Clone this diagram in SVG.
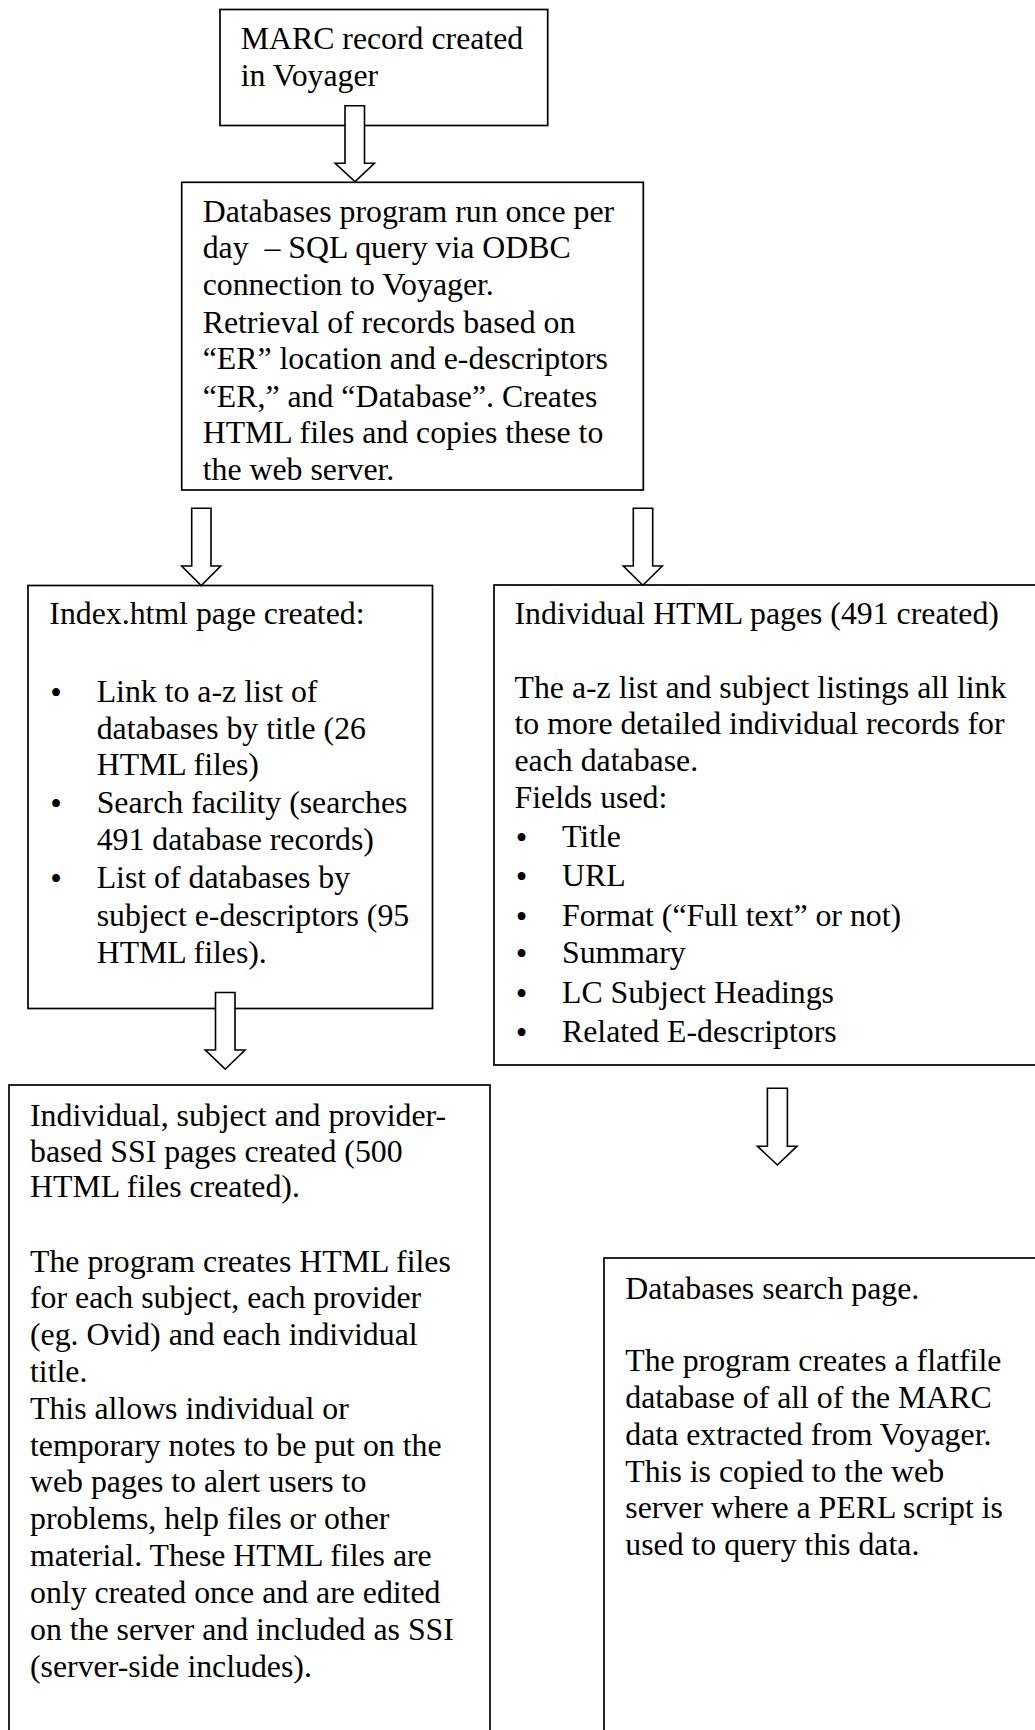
<svg xmlns="http://www.w3.org/2000/svg" width="1035" height="1730" viewBox="0 0 1035 1730">
<style>
  .box { fill: #ffffff; stroke: #000000; stroke-width: 1.7; }
  .arrow { fill: #ffffff; stroke: #000000; stroke-width: 1.6; stroke-linejoin: miter; }
  text { font-family: "Liberation Serif", "Times New Roman", serif; font-size: 31.8px; fill: #000000; }
  .bul { font-size: 33px; text-anchor: middle; }
</style>
<rect x="0" y="0" width="1035" height="1730" fill="#ffffff"/>

<g id="node-marc">
  <rect class="box" x="220" y="9.5" width="327.7" height="116"/>
  <text x="240.7" y="49.3">MARC record created</text>
  <text x="240.7" y="86">in Voyager</text>
</g>

<g id="node-program">
  <rect class="box" x="181.7" y="182.3" width="461.6" height="307.7"/>
  <text x="202.7" y="221.7">Databases program run once per</text>
  <text x="202.7" y="258.4">day&#160; – SQL query via ODBC</text>
  <text x="202.7" y="295.2">connection to Voyager.</text>
  <text x="202.7" y="332.5">Retrieval of records based on</text>
  <text x="202.7" y="369.2">“ER” location and e-descriptors</text>
  <text x="202.7" y="406.5">“ER,” and “Database”. Creates</text>
  <text x="202.7" y="443.3">HTML files and copies these to</text>
  <text x="202.7" y="480">the web server.</text>
</g>

<g id="node-index">
  <rect class="box" x="28" y="585.5" width="404.5" height="423"/>
  <text x="49.3" y="624">Index.html page created:</text>
  <text class="bul" x="56" y="704">•</text>
  <text x="96.7" y="702">Link to a-z list of</text>
  <text x="96.7" y="738.5">databases by title (26</text>
  <text x="96.7" y="775">HTML files)</text>
  <text class="bul" x="56" y="815">•</text>
  <text x="96.7" y="813">Search facility (searches</text>
  <text x="96.7" y="849.5">491 database records)</text>
  <text class="bul" x="56" y="890">•</text>
  <text x="96.7" y="888">List of databases by</text>
  <text x="96.7" y="926">subject e-descriptors (95</text>
  <text x="96.7" y="963">HTML files).</text>
</g>

<g id="node-individual">
  <rect class="box" x="494" y="585" width="560" height="480"/>
  <text x="514.5" y="623.5">Individual HTML pages (491 created)</text>
  <text x="514.5" y="697.5">The a-z list and subject listings all link</text>
  <text x="514.5" y="734">to more detailed individual records for</text>
  <text x="514.5" y="770.8">each database.</text>
  <text x="514.5" y="808">Fields used:</text>
  <text class="bul" x="521.5" y="849.4">•</text>
  <text x="562" y="847.4">Title</text>
  <text class="bul" x="521.5" y="888.4">•</text>
  <text x="562" y="886.4">URL</text>
  <text class="bul" x="521.5" y="927.5">•</text>
  <text x="562" y="925.5">Format (“Full text” or not)</text>
  <text class="bul" x="521.5" y="965.2">•</text>
  <text x="562" y="963.2">Summary</text>
  <text class="bul" x="521.5" y="1004.8">•</text>
  <text x="562" y="1002.8">LC Subject Headings</text>
  <text class="bul" x="521.5" y="1043.8">•</text>
  <text x="562" y="1041.8">Related E-descriptors</text>
</g>

<g id="node-ssi">
  <rect class="box" x="9" y="1085" width="481" height="700"/>
  <text x="30" y="1125.7">Individual, subject and provider-</text>
  <text x="30" y="1162.2">based SSI pages created (500</text>
  <text x="30" y="1197.2">HTML files created).</text>
  <text x="30" y="1271.5">The program creates HTML files</text>
  <text x="30" y="1308">for each subject, each provider</text>
  <text x="30" y="1344.9">(eg. Ovid) and each individual</text>
  <text x="30" y="1381.7">title.</text>
  <text x="30" y="1418.6">This allows individual or</text>
  <text x="30" y="1455.5">temporary notes to be put on the</text>
  <text x="30" y="1492.3">web pages to alert users to</text>
  <text x="30" y="1529.2">problems, help files or other</text>
  <text x="30" y="1566">material. These HTML files are</text>
  <text x="30" y="1602.9">only created once and are edited</text>
  <text x="30" y="1639.8">on the server and included as SSI</text>
  <text x="30" y="1676.6">(server-side includes).</text>
</g>

<g id="node-search">
  <rect class="box" x="604" y="1258" width="450" height="520"/>
  <text x="625.3" y="1299.3">Databases search page.</text>
  <text x="625.3" y="1371">The program creates a flatfile</text>
  <text x="625.3" y="1407.8">database of all of the MARC</text>
  <text x="625.3" y="1444.6">data extracted from Voyager.</text>
  <text x="625.3" y="1481.5">This is copied to the web</text>
  <text x="625.3" y="1518.3">server where a PERL script is</text>
  <text x="625.3" y="1555.2">used to query this data.</text>
</g>

<g id="connectors">
  <polygon class="arrow" points="345,105.7 364.5,105.7 364.5,163.3 374.4,163.3 355,181.7 335.2,163.3 345,163.3"/>
  <polygon class="arrow" points="191.7,508.3 211,508.3 211,566 220.7,566 201.2,585.5 181.7,566 191.7,566"/>
  <polygon class="arrow" points="633.3,508.3 652.7,508.3 652.7,566 662.3,566 642.8,585.2 623.3,566 633.3,566"/>
  <polygon class="arrow" points="215.5,992.5 235,992.5 235,1050 245,1050 225.2,1069.2 205.3,1050 215.5,1050"/>
  <polygon class="arrow" points="767.4,1088.3 787.4,1088.3 787.4,1146.2 797,1146.2 777.4,1165 757.4,1146.2 767.4,1146.2"/>
</g>
</svg>
